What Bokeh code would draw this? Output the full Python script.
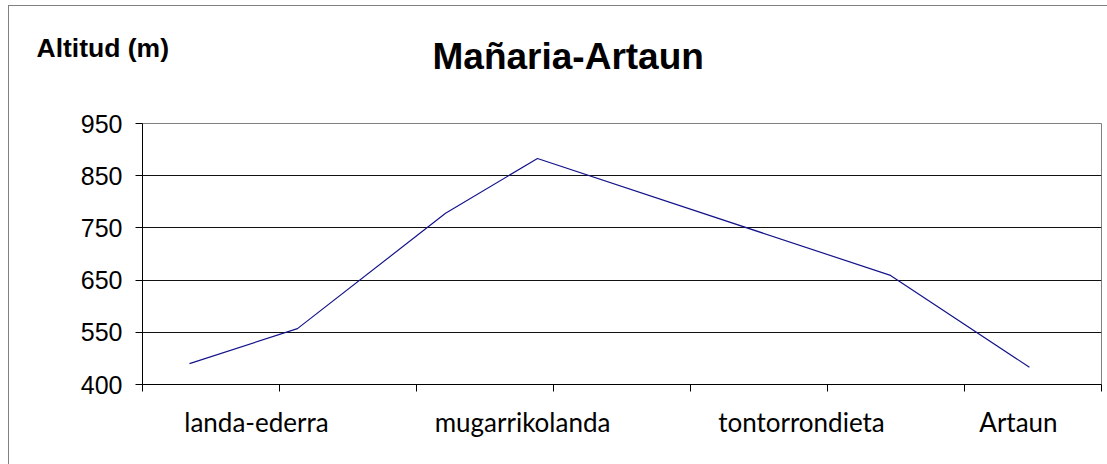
from bokeh.plotting import figure
from bokeh.models import Range1d, FixedTicker, Title
from bokeh.embed import file_html
from bokeh.resources import INLINE

# data
dist = [0.343, 1.131, 2.212, 2.883, 5.460, 6.474]      # position along route (category units)
alt = [490, 557, 778, 883, 659, 483]                    # altitude
y_ticks = [450, 550, 650, 750, 850, 950]
y_tick_labels = ["400", "550", "650", "750", "850", "950"]
x_ticks = [0, 1, 2, 3, 4, 5, 6, 7]
place_names = ["landa-ederra", "mugarrikolanda", "tontorrondieta", "Artaun"]
place_pos = [0.832, 2.774, 4.810, 6.394]
title_text = "Mañaria-Artaun"
ytitle_text = "Altitud (m)"

p = figure(width=1107, height=464, x_range=Range1d(0, 7), y_range=Range1d(450, 950),
           output_backend="svg", toolbar_location=None,
           min_border_left=142, min_border_right=6, min_border_top=123, min_border_bottom=80)

p.background_fill_color = "white"
p.border_fill_color = None
p.outline_line_color = "#808080"
p.outline_line_width = 1

p.xgrid.visible = False
p.ygrid.ticker = FixedTicker(ticks=y_ticks[1:-1])
p.ygrid.grid_line_color = "#111111"
p.ygrid.grid_line_width = 1

p.yaxis.ticker = FixedTicker(ticks=y_ticks)
p.yaxis.major_label_overrides = {t: l for t, l in zip(y_ticks, y_tick_labels)}
p.yaxis.minor_tick_line_color = None
p.yaxis.major_tick_in = 0
p.yaxis.major_tick_out = 7
p.yaxis.axis_line_color = "black"
p.yaxis.major_tick_line_color = "black"
p.yaxis.major_label_text_font = "Liberation Sans"
p.yaxis.major_label_text_font_size = "25px"
p.yaxis.major_label_text_color = "black"
p.yaxis.major_label_standoff = 13

# x axis: tick marks between segments (minor), place names as major labels
p.xaxis.ticker = FixedTicker(ticks=place_pos, minor_ticks=x_ticks)
p.xaxis.major_label_overrides = {t: n for t, n in zip(place_pos, place_names)}
p.xaxis.major_tick_line_color = None
p.xaxis.major_tick_in = 0
p.xaxis.major_tick_out = 0
p.xaxis.minor_tick_line_color = "black"
p.xaxis.minor_tick_in = 0
p.xaxis.minor_tick_out = 7
p.xaxis.axis_line_color = "black"
p.xaxis.major_label_text_font = "Lato"
p.xaxis.major_label_text_font_size = "26px"
p.xaxis.major_label_text_color = "black"
p.xaxis.major_label_standoff = 14

p.line(dist, alt, line_color="#14148a", line_width=1.2)

# spacer row nearest the plot area, then the title row, then the axis-title row
spacer = Title(text=" ", standoff=46, text_font_size="10px", text_color="white")
t1 = Title(text=title_text, align="left", offset=290, standoff=-25,
           text_font="Liberation Sans", text_font_style="bold", text_font_size="37px",
           text_color="black")
t2 = Title(text=ytitle_text, align="left", offset=-106, standoff=-32,
           text_font="Liberation Sans", text_font_style="bold", text_font_size="26.5px",
           text_color="black")
p.add_layout(spacer, "above")
p.add_layout(t1, "above")
p.add_layout(t2, "above")

p.styles = {"background": "linear-gradient(#808080,#808080) 8px 5px / 1px 100% no-repeat, "
                          "linear-gradient(#808080,#808080) 8px 5px / 100% 1px no-repeat, white"}

open("out.html", "w").write(file_html(p, INLINE))
